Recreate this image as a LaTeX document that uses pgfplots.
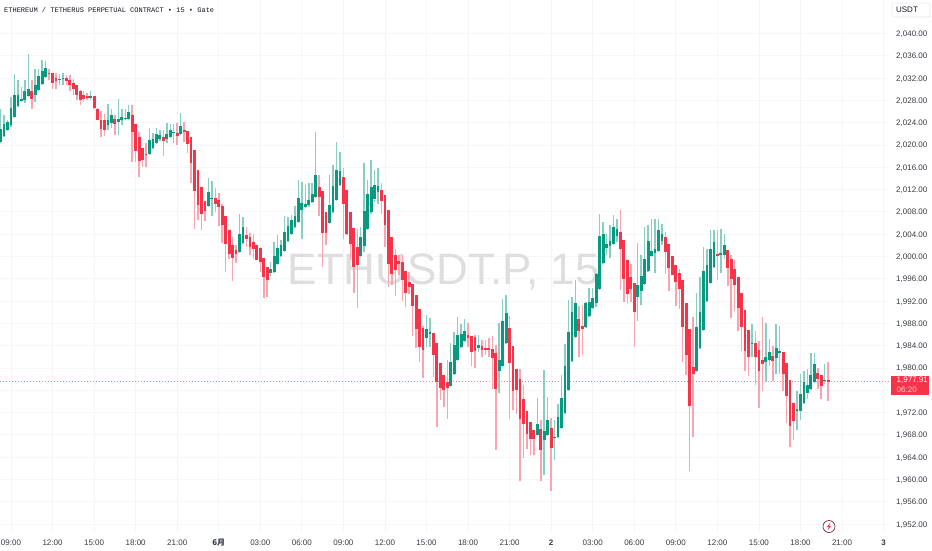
\documentclass[border=0pt]{standalone}
\usepackage{fontspec}
\usepackage{pgfplots}
\usepackage{pgfplotstable}
\pgfplotsset{compat=1.18}
\setmainfont{Liberation Sans}
\newfontfamily\cjk{Noto Sans CJK SC}
\newfontfamily\monof{Liberation Mono}
\definecolor{upc}{HTML}{089981}
\definecolor{dnc}{HTML}{F7334A}
\definecolor{gridc}{HTML}{F5F6F7}
\definecolor{txt}{HTML}{131722}

% k = number of 15 minute bars after the first 09:00 tick
\pgfplotstableread{
k o h l c
-3 2020.6 2026.5 2020.5 2022.9
-2 2021.7 2025.3 2021.4 2023.8
-1 2022.6 2024.4 2022.5 2024.2
0 2023.5 2028.6 2023.3 2026.6
1 2025.0 2032.8 2024.9 2029.0
2 2027.0 2031.6 2026.9 2028.9
3 2027.9 2030.4 2027.7 2028.2
4 2028.0 2031.6 2027.6 2029.6
5 2028.7 2036.4 2028.6 2030.1
7 2028.9 2033.7 2027.7 2030.7
8 2029.9 2033.7 2029.8 2032.4
9 2031.0 2035.2 2030.9 2033.2
10 2032.2 2035.0 2032.1 2033.8
14 2031.7 2032.7 2030.8 2031.9
15 2031.8 2033.0 2030.8 2032.0
23 2028.5 2029.7 2028.1 2028.8
28 2023.6 2027.3 2022.6 2024.4
29 2023.9 2026.5 2023.1 2025.3
31 2024.2 2028.2 2021.8 2024.7
32 2024.4 2026.5 2023.5 2025.1
33 2024.7 2026.5 2024.4 2024.9
34 2024.7 2027.1 2024.4 2025.9
40 2018.3 2023.0 2018.2 2020.9
41 2019.5 2022.1 2019.3 2021.1
42 2020.4 2023.0 2020.3 2022.0
43 2021.0 2022.7 2020.7 2021.8
45 2021.0 2023.9 2020.3 2022.0
46 2021.5 2023.7 2021.2 2022.7
47 2022.1 2023.7 2020.3 2022.3
49 2022.0 2025.7 2021.8 2023.4
57 2009.0 2014.1 2008.9 2011.5
58 2010.3 2013.6 2007.3 2010.5
66 2000.8 2007.7 2000.6 2004.0
67 2002.5 2007.1 2002.3 2005.2
75 1997.0 1999.0 1996.5 1997.7
76 1997.3 2002.6 1997.2 2000.1
77 1998.7 2003.9 1998.5 2001.6
78 2000.1 2002.9 1999.9 2002.0
79 2001.0 2007.3 2000.8 2004.4
80 2002.7 2007.1 2002.6 2005.4
81 2004.1 2007.4 2004.0 2006.5
82 2005.3 2009.1 2005.2 2007.3
83 2006.2 2013.7 2006.1 2010.4
84 2008.3 2013.4 2003.2 2009.6
85 2008.9 2012.8 2008.7 2009.5
86 2009.2 2013.1 2008.9 2010.1
87 2009.8 2013.1 2009.7 2011.2
88 2010.7 2022.4 2010.5 2014.6
92 2006.0 2014.7 2005.9 2009.2
93 2008.0 2016.4 2007.9 2012.7
94 2010.1 2020.5 2009.9 2015.6
95 2012.9 2018.7 2012.8 2015.4
101 2000.1 2005.3 1999.9 2003.5
102 2001.9 2016.7 2000.8 2008.1
103 2004.9 2013.7 2004.7 2011.2
104 2007.9 2017.3 2007.7 2012.5
105 2010.3 2015.5 2009.8 2012.8
106 2011.6 2015.8 2009.5 2012.6
120 1985.3 1989.5 1983.8 1987.0
121 1986.1 1989.0 1983.8 1986.4
127 1976.8 1984.4 1976.7 1981.0
128 1978.9 1986.4 1978.8 1984.2
129 1981.4 1989.1 1981.3 1986.0
130 1983.8 1987.9 1983.6 1986.1
131 1984.9 1988.7 1984.7 1986.7
135 1983.6 1986.0 1982.9 1984.1
141 1979.5 1988.0 1975.5 1981.4
142 1980.4 1992.3 1980.3 1988.5
143 1984.4 1993.1 1984.3 1989.8
152 1968.0 1974.6 1967.9 1969.9
154 1967.1 1979.6 1960.8 1968.7
155 1967.9 1974.8 1967.8 1970.6
157 1967.4 1970.6 1963.4 1967.7
158 1967.6 1973.6 1967.5 1971.2
159 1969.3 1978.7 1969.2 1974.6
160 1972.0 1984.3 1971.7 1980.3
161 1976.0 1992.2 1975.9 1986.4
162 1981.2 1992.8 1981.1 1990.1
163 1985.6 1995.7 1985.5 1991.6
166 1987.3 1991.9 1987.2 1991.7
167 1989.4 1994.4 1989.3 1991.9
168 1990.7 1994.4 1990.6 1992.6
169 1991.6 1997.0 1991.0 1996.9
170 1994.2 2007.7 1994.1 2003.7
171 1998.9 2006.2 1998.7 2004.1
172 2001.5 2004.1 2000.2 2002.3
173 2001.9 2005.6 1999.8 2002.7
174 2002.3 2007.4 2002.2 2005.3
175 2003.7 2006.8 2002.6 2005.0
181 1992.7 2002.5 1988.4 1994.8
182 1993.8 2000.2 1991.3 1996.5
183 1995.1 2005.2 1995.0 1999.6
184 1997.4 2005.7 1997.2 2002.8
185 2000.1 2006.7 2000.0 2000.9
186 2000.6 2006.8 1997.0 2001.4
187 2001.0 2006.7 2000.8 2004.7
188 2002.8 2005.9 2002.0 2004.1
198 1979.5 1993.4 1979.4 1987.3
199 1983.5 1996.4 1983.4 1990.1
200 1986.8 2001.7 1986.7 1997.4
201 1992.1 2001.4 1992.0 1998.4
202 1995.2 2004.7 1995.1 2001.4
203 1998.1 2004.7 1998.0 2002.6
205 2000.3 2004.9 1997.1 2000.6
206 2000.3 2004.1 1999.6 2002.0
214 1984.3 1987.9 1982.0 1984.5
218 1981.1 1988.1 1977.4 1982.0
219 1981.5 1985.2 1980.4 1982.9
221 1981.7 1987.9 1979.0 1983.5
222 1982.6 1987.6 1978.9 1983.0
227 1972.2 1975.8 1968.9 1972.7
228 1972.3 1979.0 1970.7 1975.3
229 1973.7 1979.4 1973.6 1977.5
230 1975.5 1979.8 1974.4 1976.9
231 1976.2 1982.7 1976.1 1978.7
232 1977.4 1982.7 1977.3 1980.7
235 1977.7 1980.7 1977.1 1977.9
}\upbars

\pgfplotstableread{
k o h l c
6 2029.6 2031.6 2026.4 2028.2
11 2033.0 2033.7 2031.6 2032.7
12 2033.0 2033.0 2030.0 2031.1
13 2032.0 2033.0 2030.0 2031.5
16 2032.0 2032.5 2030.7 2031.5
17 2031.7 2032.5 2029.7 2030.7
18 2031.2 2031.9 2028.9 2030.0
19 2030.7 2030.7 2028.0 2028.9
20 2029.7 2029.8 2027.2 2028.1
21 2029.0 2029.7 2027.7 2028.3
22 2028.7 2029.3 2028.1 2028.4
24 2028.7 2028.7 2026.5 2026.6
25 2026.4 2026.6 2024.4 2024.5
26 2024.5 2026.1 2021.5 2022.9
27 2024.4 2025.6 2021.7 2022.6
30 2024.7 2025.3 2021.8 2023.8
35 2025.3 2027.1 2017.0 2022.4
36 2023.8 2023.8 2016.9 2018.9
37 2021.5 2022.3 2014.2 2017.2
38 2019.4 2019.4 2016.1 2017.3
39 2018.4 2020.3 2016.1 2018.2
44 2021.4 2022.7 2018.0 2020.8
48 2022.2 2023.9 2020.0 2021.7
50 2022.6 2024.1 2020.6 2022.3
51 2022.5 2022.5 2018.6 2020.2
52 2021.4 2021.4 2013.2 2016.8
53 2019.1 2019.1 2005.0 2011.8
54 2015.5 2015.5 2006.5 2009.2
55 2012.4 2012.4 2004.7 2007.6
56 2010.0 2010.0 2006.4 2008.2
59 2010.5 2012.2 2008.0 2009.4
60 2010.1 2011.3 2005.5 2008.9
61 2009.0 2009.5 2002.5 2005.6
62 2007.3 2007.3 1997.3 2002.2
63 2004.8 2004.8 1999.6 2000.4
64 2002.0 2003.5 1995.6 1999.7
65 2001.2 2002.0 1998.8 2000.4
68 2003.8 2005.3 2001.7 2003.2
69 2003.5 2004.2 2000.2 2001.7
70 2002.6 2004.1 1999.6 2001.3
71 2002.0 2002.0 1999.3 1999.3
72 2001.5 2001.7 1997.3 1999.0
73 1999.8 1999.8 1992.6 1996.4
74 1998.2 1998.2 1992.7 1995.7
89 2012.5 2014.6 2007.3 2010.7
90 2011.7 2011.7 1998.1 2004.2
91 2007.9 2007.9 2002.0 2004.2
96 2014.2 2015.8 2003.2 2009.5
97 2011.9 2011.9 2003.8 2004.1
98 2008.0 2008.0 1999.3 2002.3
99 2005.1 2005.1 1993.4 1998.1
100 2001.7 2005.0 1990.8 1998.5
107 2012.0 2013.1 2007.7 2009.9
108 2011.0 2011.0 2001.7 2005.6
109 2008.3 2008.3 1994.6 1998.7
110 2003.5 2003.5 1994.8 1996.9
111 2000.2 2001.4 1992.9 1997.5
112 1999.2 2000.2 1996.6 1998.7
113 1999.0 2000.2 1992.1 1995.7
114 1997.4 1997.4 1990.9 1993.4
115 1995.4 1997.2 1993.3 1994.5
116 1995.1 1995.1 1985.8 1991.1
117 1993.1 1993.1 1983.5 1987.0
118 1990.6 1990.6 1981.1 1983.7
119 1987.1 1987.6 1978.2 1983.3
122 1986.3 1986.3 1978.3 1982.3
123 1984.4 1984.4 1969.4 1977.5
124 1980.9 1980.9 1974.3 1976.4
125 1978.8 1978.8 1973.0 1976.0
126 1977.4 1981.5 1970.9 1976.4
132 1985.9 1988.0 1983.8 1985.4
133 1985.8 1985.8 1980.4 1982.9
134 1985.5 1985.9 1980.0 1983.0
136 1983.9 1985.0 1982.0 1983.2
137 1983.6 1985.1 1982.3 1983.2
138 1983.5 1985.3 1982.0 1983.3
139 1983.4 1985.7 1976.3 1981.8
140 1982.7 1984.1 1965.2 1976.3
144 1987.1 1989.3 1970.9 1980.8
145 1983.9 1983.9 1972.4 1975.8
146 1979.9 1979.9 1971.8 1976.1
147 1978.0 1979.8 1959.8 1970.9
148 1974.5 1976.9 1963.8 1969.9
149 1972.2 1972.2 1965.5 1968.2
150 1970.3 1970.3 1964.4 1967.2
151 1968.8 1968.8 1964.4 1967.3
153 1969.0 1970.6 1959.8 1965.2
156 1969.2 1971.0 1957.9 1965.6
164 1988.7 1991.2 1982.0 1986.6
165 1987.6 1991.3 1982.3 1987.0
176 2004.4 2008.3 1994.0 2001.4
177 2002.9 2002.9 1991.8 1996.0
178 1999.4 1999.4 1991.6 1993.3
179 1996.4 1998.6 1991.8 1994.2
180 1995.3 1995.3 1983.7 1990.1
189 2003.5 2004.3 1996.8 2000.8
190 2002.2 2002.2 1993.8 1997.9
191 2000.1 2000.1 1996.6 1996.6
192 1998.4 1998.4 1991.2 1995.4
193 1997.0 1997.8 1990.5 1994.2
194 1995.7 1995.7 1981.0 1987.4
195 1991.6 1991.6 1978.7 1982.3
196 1987.0 1987.0 1961.5 1973.2
197 1980.1 1989.1 1967.7 1979.0
204 2000.5 2004.7 1995.7 2000.1
207 2001.2 2001.2 1994.7 1997.9
208 1999.6 2000.2 1988.9 1995.9
209 1997.8 1999.4 1990.3 1994.8
210 1996.3 1996.3 1986.7 1990.7
211 1993.5 1993.5 1983.1 1987.3
212 1990.4 1990.4 1979.4 1983.0
213 1986.8 1986.8 1978.5 1982.0
215 1984.5 1986.7 1976.9 1982.0
216 1983.2 1984.8 1972.9 1979.5
217 1981.4 1989.1 1975.9 1980.7
220 1982.2 1984.0 1977.7 1981.2
223 1982.8 1982.8 1975.9 1978.9
224 1980.9 1980.9 1970.1 1974.9
225 1977.9 1977.9 1965.8 1969.6
226 1973.8 1973.8 1967.1 1970.5
233 1979.1 1980.0 1976.2 1978.1
234 1978.7 1978.8 1974.5 1976.7
236 1977.8 1981.0 1974.1 1977.4
}\downbars

\pgfplotsset{
  wick/.style={draw=none, forget plot, mark=none, error bars/.cd, y dir=both, y explicit,
    error mark=none, error bar style={line width=1.5pt, color=#1}},
  body/.style={draw=none, forget plot, mark=none, error bars/.cd, y dir=both, y explicit,
    error mark=none, error bar style={line width=2.8pt, color=#1}},
}

\begin{document}
\begin{tikzpicture}[x=1pt,y=1pt]
\useasboundingbox (0,0) rectangle (932,550);
\begin{axis}[
  at={(0pt,18pt)}, anchor=south west,
  scale only axis, width=890pt, height=532pt,
  xmin=-3.177, xmax=253.86,
  ymin=1950.57, ymax=2046.01,
  axis line style={draw=none},
  major tick length=0pt,
  grid=major,
  grid style={gridc, line width=0.8pt},
  xtick={0,12,...,252},
  xticklabels={09:00,12:00,15:00,18:00,21:00,{\cjk\bfseries 6月},03:00,06:00,09:00,12:00,15:00,18:00,21:00,{\bfseries 2},03:00,06:00,09:00,12:00,15:00,18:00,21:00,{\bfseries 3}},
  ytick={1952,1956,...,1972,1980,1984,...,2040},
  extra y ticks={1976},
  extra y tick labels={},
  extra tick style={grid=major, grid style={gridc, line width=0.8pt}},
  yticklabel pos=right,
  tick label style={font=\fontsize{8}{9.6}\selectfont, text=txt!85},
  xticklabel style={inner sep=0pt, anchor=base, yshift=-13pt},
  yticklabel style={inner sep=0pt, anchor=west, xshift=6pt, text height=6pt, text depth=0pt},
  /pgf/number format/assume math mode=true,
  yticklabel style={/pgf/number format/.cd, fixed, fixed zerofill, precision=2, 1000 sep={,}},
]
\node[text=black!13, font=\fontsize{44}{48}\selectfont, anchor=base] at (axis cs:125,1994.9) {ETHUSDT.P, 15};
\addplot[color=dnc, opacity=0.6, line width=1pt, dash pattern=on 1pt off 2pt, mark=none, forget plot] coordinates {(-3.177,1977.6) (253.86,1977.6)};
\addplot[wick=upc!48!white] table[x=k, y=o, y error plus expr=\thisrow{h}-\thisrow{o}, y error minus expr=\thisrow{o}-\thisrow{l}] {\upbars};
\addplot[wick=dnc!45!white] table[x=k, y=o, y error plus expr=\thisrow{h}-\thisrow{o}, y error minus expr=\thisrow{o}-\thisrow{l}] {\downbars};
\addplot[body=upc] table[x=k, y=o, y error plus expr=\thisrow{c}-\thisrow{o}, y error minus expr=0] {\upbars};
\addplot[body=dnc] table[x=k, y=o, y error plus expr=0, y error minus expr=\thisrow{o}-\thisrow{c}] {\downbars};
\end{axis}
% header and price-scale furniture, in page coordinates
\node[anchor=west, inner sep=0pt, font=\monof\fontsize{7}{8}\selectfont, text=txt] at (4,539.5) {ETHEREUM / TETHERUS PERPETUAL CONTRACT • 15 • Gate};
\draw[draw=black!8, fill=white, rounded corners=2.5pt, line width=0.7pt] (892,533) rectangle (930,547);
\node[inner sep=0pt, font=\fontsize{8}{9}\selectfont, text=txt] at (907,540) {USDT};
\fill[dnc] (891,155) rectangle (929,174);
\node[inner sep=0pt, anchor=west, font=\fontsize{8}{9}\selectfont, text=white] at (896.5,169.5) {1,977.91};
\node[inner sep=0pt, anchor=west, font=\fontsize{8}{9}\selectfont, text=white!75!dnc] at (896.5,160.5) {06:20};
\draw[draw=txt!70!dnc, line width=0.6pt, fill=white] (829,23.5) circle (6pt);
\fill[dnc] (830.6,27.6) -- (826.8,23) -- (829,23) -- (827.4,19.4) -- (831.2,24.2) -- (829,24.2) -- cycle;
\end{tikzpicture}
\end{document}
